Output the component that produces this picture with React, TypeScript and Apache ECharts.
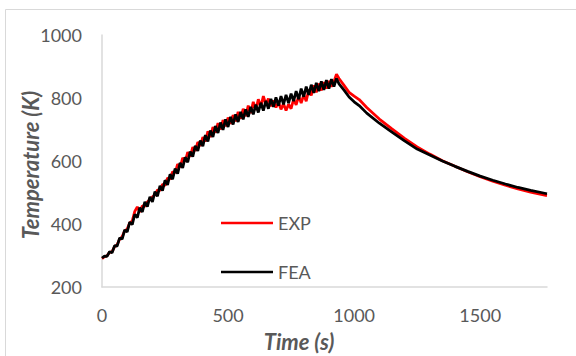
import React, { useEffect, useRef } from "react";
import * as echarts from "echarts";

const heatTimes = [
  0, 10, 20, 30, 40, 50, 60, 70, 80, 90, 100, 110, 120, 130, 140, 150, 160, 170, 180, 190,
  200, 210, 220, 230, 240, 250, 260, 270, 280, 290, 300, 310, 320, 330, 340, 350, 360, 370, 380, 390,
  400, 410, 420, 430, 440, 450, 460, 470, 480, 490, 500, 510, 520, 530, 540, 550, 560, 570, 580, 590,
  600, 610, 620, 630, 640, 650, 660, 670, 680, 690, 700, 710, 720, 730, 740, 750, 760, 770, 780, 790,
  800, 810, 820, 830, 840, 850, 860, 870, 880, 890, 900, 910, 920, 930,
];

const feaHeat = [
  292, 298, 297, 312, 309, 331, 330, 356, 352, 381, 375, 406, 398, 431, 420, 452, 438, 470, 455, 486,
  470, 503, 488, 521, 506, 539, 524, 558, 542, 576, 560, 594, 578, 612, 596, 630, 614, 648, 632, 665,
  647, 682, 662, 697, 676, 711, 689, 722, 699, 732, 708, 740, 716, 748, 724, 756, 732, 764, 740, 772,
  748, 779, 754, 785, 760, 791, 766, 797, 772, 802, 776, 806, 780, 810, 784, 814, 790, 822, 796, 830,
  804, 836, 810, 842, 816, 848, 822, 853, 826, 857, 830, 860, 836, 862,
];

const expHeat = [
  290, 296, 299, 310, 312, 328, 334, 352, 360, 378, 384, 404, 410, 440, 454, 438, 458, 456, 470, 478,
  486, 492, 508, 506, 526, 522, 546, 542, 566, 562, 590, 580, 610, 598, 628, 614, 644, 632, 660, 648,
  676, 662, 694, 676, 708, 690, 720, 700, 730, 710, 738, 718, 746, 726, 756, 734, 766, 742, 776, 752,
  788, 762, 796, 772, 806, 780, 798, 774, 792, 770, 786, 764, 782, 760, 780, 766, 796, 778, 806, 784,
  810, 790, 826, 808, 840, 818, 846, 824, 850, 830, 854, 836, 852, 876,
];

const coolTimes = [940, 960, 980, 1000, 1020, 1050, 1100, 1150, 1200, 1250, 1300, 1350, 1400, 1450, 1500, 1550, 1600, 1650, 1700, 1765];
const feaCool = [845, 825, 803, 788, 776, 752, 720, 692, 664, 638, 619, 600, 583, 567, 552, 539, 527, 516, 507, 496];
const expCool = [862, 840, 818, 806, 795, 770, 733, 702, 672, 645, 622, 601, 583, 566, 550, 536, 523, 511, 501, 490];

const xTicks = [0, 500, 1000, 1500];
const yTicks = [200, 400, 600, 800, 1000];

const seriesNames = ["EXP", "FEA"];
const xTitle = "Time (s)";
const yTitle = "Temperature (K)";

function pairs(ts: number[], vs: number[]) {
  return ts.map((t, i) => [t, vs[i]]);
}

export default function App() {
  const ref = useRef<HTMLDivElement>(null);
  useEffect(() => {
    document.body.style.margin = "0";
    if (!ref.current) return;
    const chart = echarts.init(ref.current, null, { renderer: "svg" });
    const gray = "#595959";
    const font = "Lato, 'Open Sans', sans-serif";
    const expData = pairs(heatTimes, expHeat).concat(pairs(coolTimes, expCool));
    const feaData = pairs(heatTimes, feaHeat).concat(pairs(coolTimes, feaCool));
    chart.setOption({
      animation: false,
      backgroundColor: "#ffffff",
      textStyle: { fontFamily: font },
      grid: { left: 102, right: 29, top: 35, bottom: 69, containLabel: false },
      xAxis: {
        type: "value",
        min: 0,
        max: 1765,
        interval: 500,
        axisLine: { show: true, lineStyle: { color: "#D9D9D9", width: 1.5 } },
        axisTick: { show: false },
        splitLine: { show: false },
        axisLabel: {
          color: gray,
          fontSize: 18,
          fontFamily: font,
          margin: 19,
          showMaxLabel: false,
          formatter: (v: number) => (xTicks.includes(v) ? String(v) : ""),
        },
      },
      yAxis: {
        type: "value",
        min: 200,
        max: 1000,
        interval: 200,
        axisLine: { show: true, lineStyle: { color: "#D9D9D9", width: 1.5 } },
        axisTick: { show: false },
        splitLine: { show: false },
        axisLabel: {
          color: gray,
          fontSize: 18,
          fontFamily: font,
          margin: 20,
          formatter: (v: number) => (yTicks.includes(v) ? String(v) : ""),
        },
      },
      legend: {
        orient: "vertical",
        left: 216,
        top: 209,
        itemWidth: 52,
        itemHeight: 14,
        itemGap: 31,
        icon: "path://M0,6 L52,6 L52,8.5 L0,8.5 Z",
        textStyle: { color: gray, fontSize: 18, fontFamily: font, lineHeight: 17 },
        data: seriesNames,
      },
      graphic: [
        {
          type: "rect",
          shape: { x: 5.5, y: 9.5, width: 700, height: 500 },
          style: { fill: "none", stroke: "#D9D9D9", lineWidth: 1 },
          silent: true,
        },
        {
          type: "text",
          x: 299,
          y: 341,
          style: {
            text: xTitle,
            fill: gray,
            fontSize: 22,
            fontWeight: "bold",
            fontStyle: "italic",
            fontFamily: font,
            align: "center",
            verticalAlign: "middle",
          },
        },
        {
          type: "text",
          x: 30,
          y: 165,
          rotation: Math.PI / 2,
          style: {
            text: yTitle,
            fill: gray,
            fontSize: 22,
            fontWeight: "bold",
            fontStyle: "italic",
            fontFamily: font,
            align: "center",
            verticalAlign: "middle",
          },
        },
      ],
      series: [
        {
          name: seriesNames[0],
          type: "line",
          data: expData,
          symbol: "none",
          lineStyle: { color: "#FF0000", width: 2.75 },
          itemStyle: { color: "#FF0000" },
          z: 2,
        },
        {
          name: seriesNames[1],
          type: "line",
          data: feaData,
          symbol: "none",
          lineStyle: { color: "#000000", width: 2.75 },
          itemStyle: { color: "#000000" },
          z: 3,
        },
      ],
    });
    return () => chart.dispose();
  }, []);
  return <div ref={ref} style={{ width: 576, height: 356 }} />;
}
